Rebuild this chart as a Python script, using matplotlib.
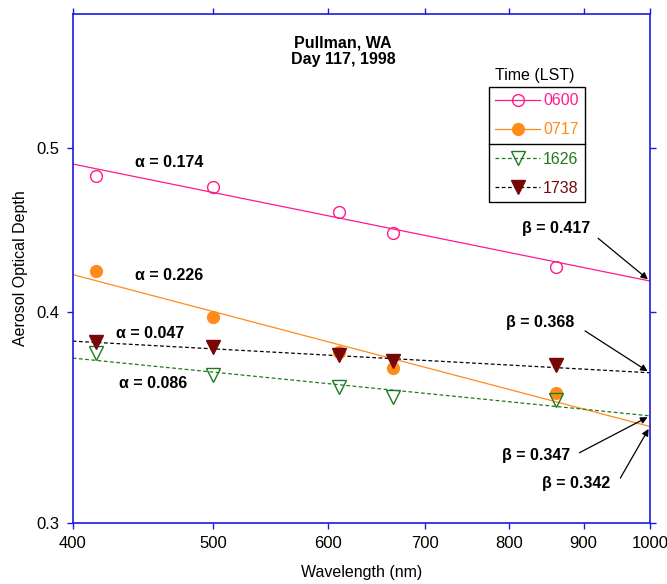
import matplotlib
matplotlib.use("Agg")
import matplotlib.pyplot as plt
from matplotlib.lines import Line2D
from matplotlib.ticker import FixedLocator, NullLocator, FixedFormatter
import numpy as np

plt.rcParams['font.family'] = ['Liberation Sans', 'DejaVu Sans']

# wavelengths of the channels (nm)
wavelength = [415, 500, 610, 665, 862]

# measured aerosol optical depth for each time (LST)
tau_0600 = [0.481, 0.474, 0.458, 0.4455, 0.425]
tau_0717 = [0.423, 0.397, 0.3787, 0.3705, 0.358]
tau_1626 = [0.378, 0.367, 0.361, 0.356, 0.3547]
tau_1738 = [0.3835, 0.381, 0.377, 0.374, 0.3717]

# Angstrom fits: tau = beta * (lambda / 1000)^-alpha
times = ['0600', '0717', '1626', '1738']
alphas = [0.174, 0.226, 0.086, 0.047]
betas = [0.417, 0.342, 0.347, 0.368]

x_ticks = [400, 500, 600, 700, 800, 900, 1000]
y_ticks = [0.3, 0.4, 0.5]

PINK = '#FF1A8C'
ORANGE = '#FF8C1A'
GREEN = '#1E7A1E'
DARKRED = '#780808'
BLUE = '#1A1AE6'
FS = 11.5

series = [
    (tau_0600, PINK, PINK, '-', 'o', 'none'),
    (tau_0717, ORANGE, ORANGE, '-', 'o', ORANGE),
    (tau_1626, GREEN, GREEN, (0, (3, 2)), 'v', 'none'),
    (tau_1738, 'black', DARKRED, (0, (3, 2)), 'v', DARKRED),
]

fig = plt.figure(figsize=(6.67, 5.84), dpi=100)
ax = fig.add_axes([0.109, 0.105, 0.8655, 0.871])
ax.set_xscale('log')
ax.set_yscale('log')

lam_fit = np.array([400.0, 1000.0])
handles = []
for (tau, lcol, mcol, ls, mk, mfc), a, b in zip(series, alphas, betas):
    ax.plot(lam_fit, b * (lam_fit / 1000.0) ** (-a), color=lcol, lw=0.9, ls=ls, zorder=2)
    ms = 8.5 if mk == 'o' else 9.5
    ax.plot(wavelength, tau, ls='none', marker=mk, ms=ms, mfc=mfc, mec=mcol,
            mew=1.0, zorder=3, clip_on=False)
    handles.append(Line2D([], [], color=lcol, lw=0.9, ls=ls, marker=mk, ms=ms,
                          mfc=mfc, mec=mcol, mew=1.0))

ax.set_xlim(400, 1000)
ax.set_ylim(0.3, 0.6)
ax.xaxis.set_major_locator(FixedLocator(x_ticks))
ax.xaxis.set_major_formatter(FixedFormatter([str(v) for v in x_ticks]))
ax.xaxis.set_minor_locator(NullLocator())
ax.yaxis.set_major_locator(FixedLocator(y_ticks))
ax.yaxis.set_major_formatter(FixedFormatter([str(v) for v in y_ticks]))
ax.yaxis.set_minor_locator(NullLocator())

for sp in ax.spines.values():
    sp.set_color(BLUE)
    sp.set_linewidth(1.2)
ax.tick_params(which='both', direction='out', length=4.5, width=1.0, color=BLUE,
               labelsize=12, top=True, right=True, pad=5)

ax.set_xlabel('Wavelength (nm)', fontsize=FS, labelpad=10)
ax.set_ylabel('Aerosol Optical Depth', fontsize=FS, labelpad=6)

ax.text(0.468, 0.927, 'Pullman, WA\nDay 117, 1998', transform=ax.transAxes,
        ha='center', va='center', fontsize=FS, fontweight='bold', linespacing=1.15)

# alpha labels
alpha_pos = [(466, 0.490), (466, 0.420), (454.5, 0.3625), (452, 0.388)]
for a, (x, y) in zip(alphas, alpha_pos):
    ax.text(x, y, '\u03b1 = %.3f' % a, ha='center', va='center',
            fontsize=FS, fontweight='bold')

# beta labels with arrows to the fit at 1000 nm
beta_text = [(862, 0.448), (890, 0.3163), (834, 0.3286), (840, 0.394)]
beta_tail = [(921, 0.442), (954, 0.3188), (894, 0.330), (902, 0.3896)]
for b, (tx, ty), (ax_, ay) in zip(betas, beta_text, beta_tail):
    ax.text(tx, ty, '\u03b2 = %.3f' % b, ha='center', va='center',
            fontsize=FS, fontweight='bold')
    ax.annotate('', xy=(1000, b), xytext=(ax_, ay),
                arrowprops=dict(arrowstyle='-|>', color='black', lw=0.9,
                                mutation_scale=10, shrinkA=0, shrinkB=2),
                annotation_clip=False)

leg = ax.legend(handles, times, loc='upper left', bbox_to_anchor=(0.721, 0.8565),
                borderaxespad=0, fontsize=FS, frameon=True, fancybox=False,
                handlelength=2.8, handletextpad=0.2, labelspacing=0.88,
                borderpad=0.4, labelcolor=[PINK, ORANGE, GREEN, DARKRED])
leg.get_frame().set_edgecolor('black')
leg.get_frame().set_linewidth(1.0)
leg.get_frame().set_alpha(None)

ax.text(0.801, 0.880, 'Time (LST)', transform=ax.transAxes, ha='center',
        va='center', fontsize=FS)

# divider between morning and afternoon entries
fig.canvas.draw()
fb = leg.get_frame().get_window_extent()
t2 = leg.get_texts()[1].get_window_extent()
t3 = leg.get_texts()[2].get_window_extent()
ymid = (t2.y0 + t3.y1) / 2.0
inv = fig.transFigure.inverted()
(x0, y0) = inv.transform((fb.x0, ymid))
(x1, _) = inv.transform((fb.x1, ymid))
fig.add_artist(Line2D([x0, x1], [y0, y0], color='black', lw=1.0, zorder=10))

fig.savefig('out.png', dpi=100)
